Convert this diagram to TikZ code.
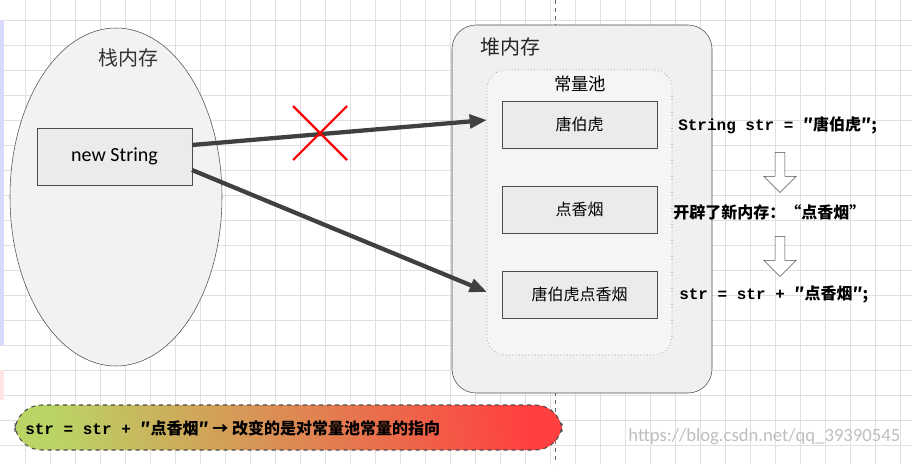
\documentclass[tikz,border=0pt]{standalone}
\usepackage{fontspec}
\setmainfont{Carlito}
\newfontfamily\cjk{Noto Sans CJK SC}
\newfontfamily\mono{Liberation Mono}[BoldFont={Liberation Mono Bold}]
\usetikzlibrary{shapes.geometric,shapes.arrows,arrows.meta}
\begin{document}
\begin{tikzpicture}[x=0.75pt,y=-0.75pt,
  box/.style={draw=black!70,fill=black!8,minimum width=155*0.75pt,inner sep=0},
  conn/.style={line width=3.2pt,draw=black!75,-{Triangle[length=13pt,width=10pt]}},
  down/.style={single arrow,draw=black!70,fill=white,shape border rotate=270,minimum width=32*0.75pt,single arrow head extend=5pt,minimum height=40*0.75pt,inner sep=2pt},
  code/.style={font=\bfseries\cjk\fontsize{12}{14}\selectfont}]
\useasboundingbox (0,0) rectangle (912,464);
\fill[white] (0,0) rectangle (912,464);
\draw[black!12,line width=0.6pt] (12,0) grid[xstep=25,ystep=25] (912,464);
\foreach \y in {20,45,...,464} \draw[black!12,line width=0.6pt] (0,\y)--(912,\y);
\fill[blue!15] (0,20) rectangle (4,345);
\fill[red!10] (0,370) rectangle (4,400);
\draw[black!60,dashed] (555,0)--(555,464);
% stack
\node[ellipse,draw=black!70,fill=black!5,minimum width=212*0.75pt,minimum height=338*0.75pt] (stack) at (116,197) {};
\node[font=\cjk\fontsize{15}{17}\selectfont,text=black!80] (stl) at (128,58) {栈内存};
\node[box,minimum height=57*0.75pt,font=\fontsize{15}{17}\selectfont] (ns) at (114.5,156.5) {new String};
% heap
\node[draw=black!70,fill=black!6,rounded corners=18pt,minimum width=260*0.75pt,minimum height=368*0.75pt] (heap) at (582,209) {};
\node[font=\cjk\fontsize{15}{17}\selectfont,text=black!85] (hl) at (510,47) {堆内存};
\node[draw=black!60,dotted,fill=black!4,rounded corners=14pt,minimum width=185*0.75pt,minimum height=285*0.75pt] (pool) at (579.5,212.5) {};
\node[font=\cjk\fontsize{13}{15}\selectfont] (pl) at (580,84) {常量池};
\node[box,minimum height=47*0.75pt,font=\cjk\fontsize{12}{14}\selectfont] (b1) at (579.5,124.5) {唐伯虎};
\node[box,minimum height=47*0.75pt,font=\cjk\fontsize{12}{14}\selectfont] (b2) at (579.5,209.5) {点香烟};
\node[box,minimum height=47*0.75pt,font=\cjk\fontsize{12}{14}\selectfont] (b3) at (579.5,294.5) {唐伯虎点香烟};
\coordinate (s1) at (192,145);
\coordinate (s2) at (192,170);
\coordinate (e1) at (487,120);
\coordinate (e2) at (487,292);
\draw[conn] (s1)--(e1);
\draw[conn] (s2)--(e2);
\coordinate (x0) at (320,133);
\draw[red,line width=1.6pt] ([shift={(-27,-27)}]x0)--([shift={(27,27)}]x0) ([shift={(-27,27)}]x0)--([shift={(27,-27)}]x0);
% right
\node[code,anchor=west,inner sep=0] (t1) at (678,125) {{\mono\bfseries String str = }″唐伯虎″;};
\node[down] (a1) at (780,170) {};
\node[code,anchor=west,inner sep=0] (t2) at (673,212) {开辟了新内存：“点香烟”};
\node[down] (a2) at (780,254) {};
\node[code,anchor=west,inner sep=0] (t3) at (679,294) {{\mono\bfseries str = str + }″点香烟″;};
% banner
\shade[left color=green!45!orange!60!white,right color=red!75!white,shading angle=100,rounded corners=20pt] (15,405) rectangle (562,450);
\draw[black!70,dashed,rounded corners=20pt,thick] (15,405) rectangle (562,450);
\node[code,anchor=west,inner sep=0] (bt) at (25,428) {{\mono\bfseries str = str + }″点香烟″ → 改变的是对常量池常量的指向};
\node[text=black!25,font=\fontsize{14}{16}\selectfont,anchor=east] (wm) at (905,437) {https://blog.csdn.net/qq\_39390545};
\end{tikzpicture}
\end{document}
